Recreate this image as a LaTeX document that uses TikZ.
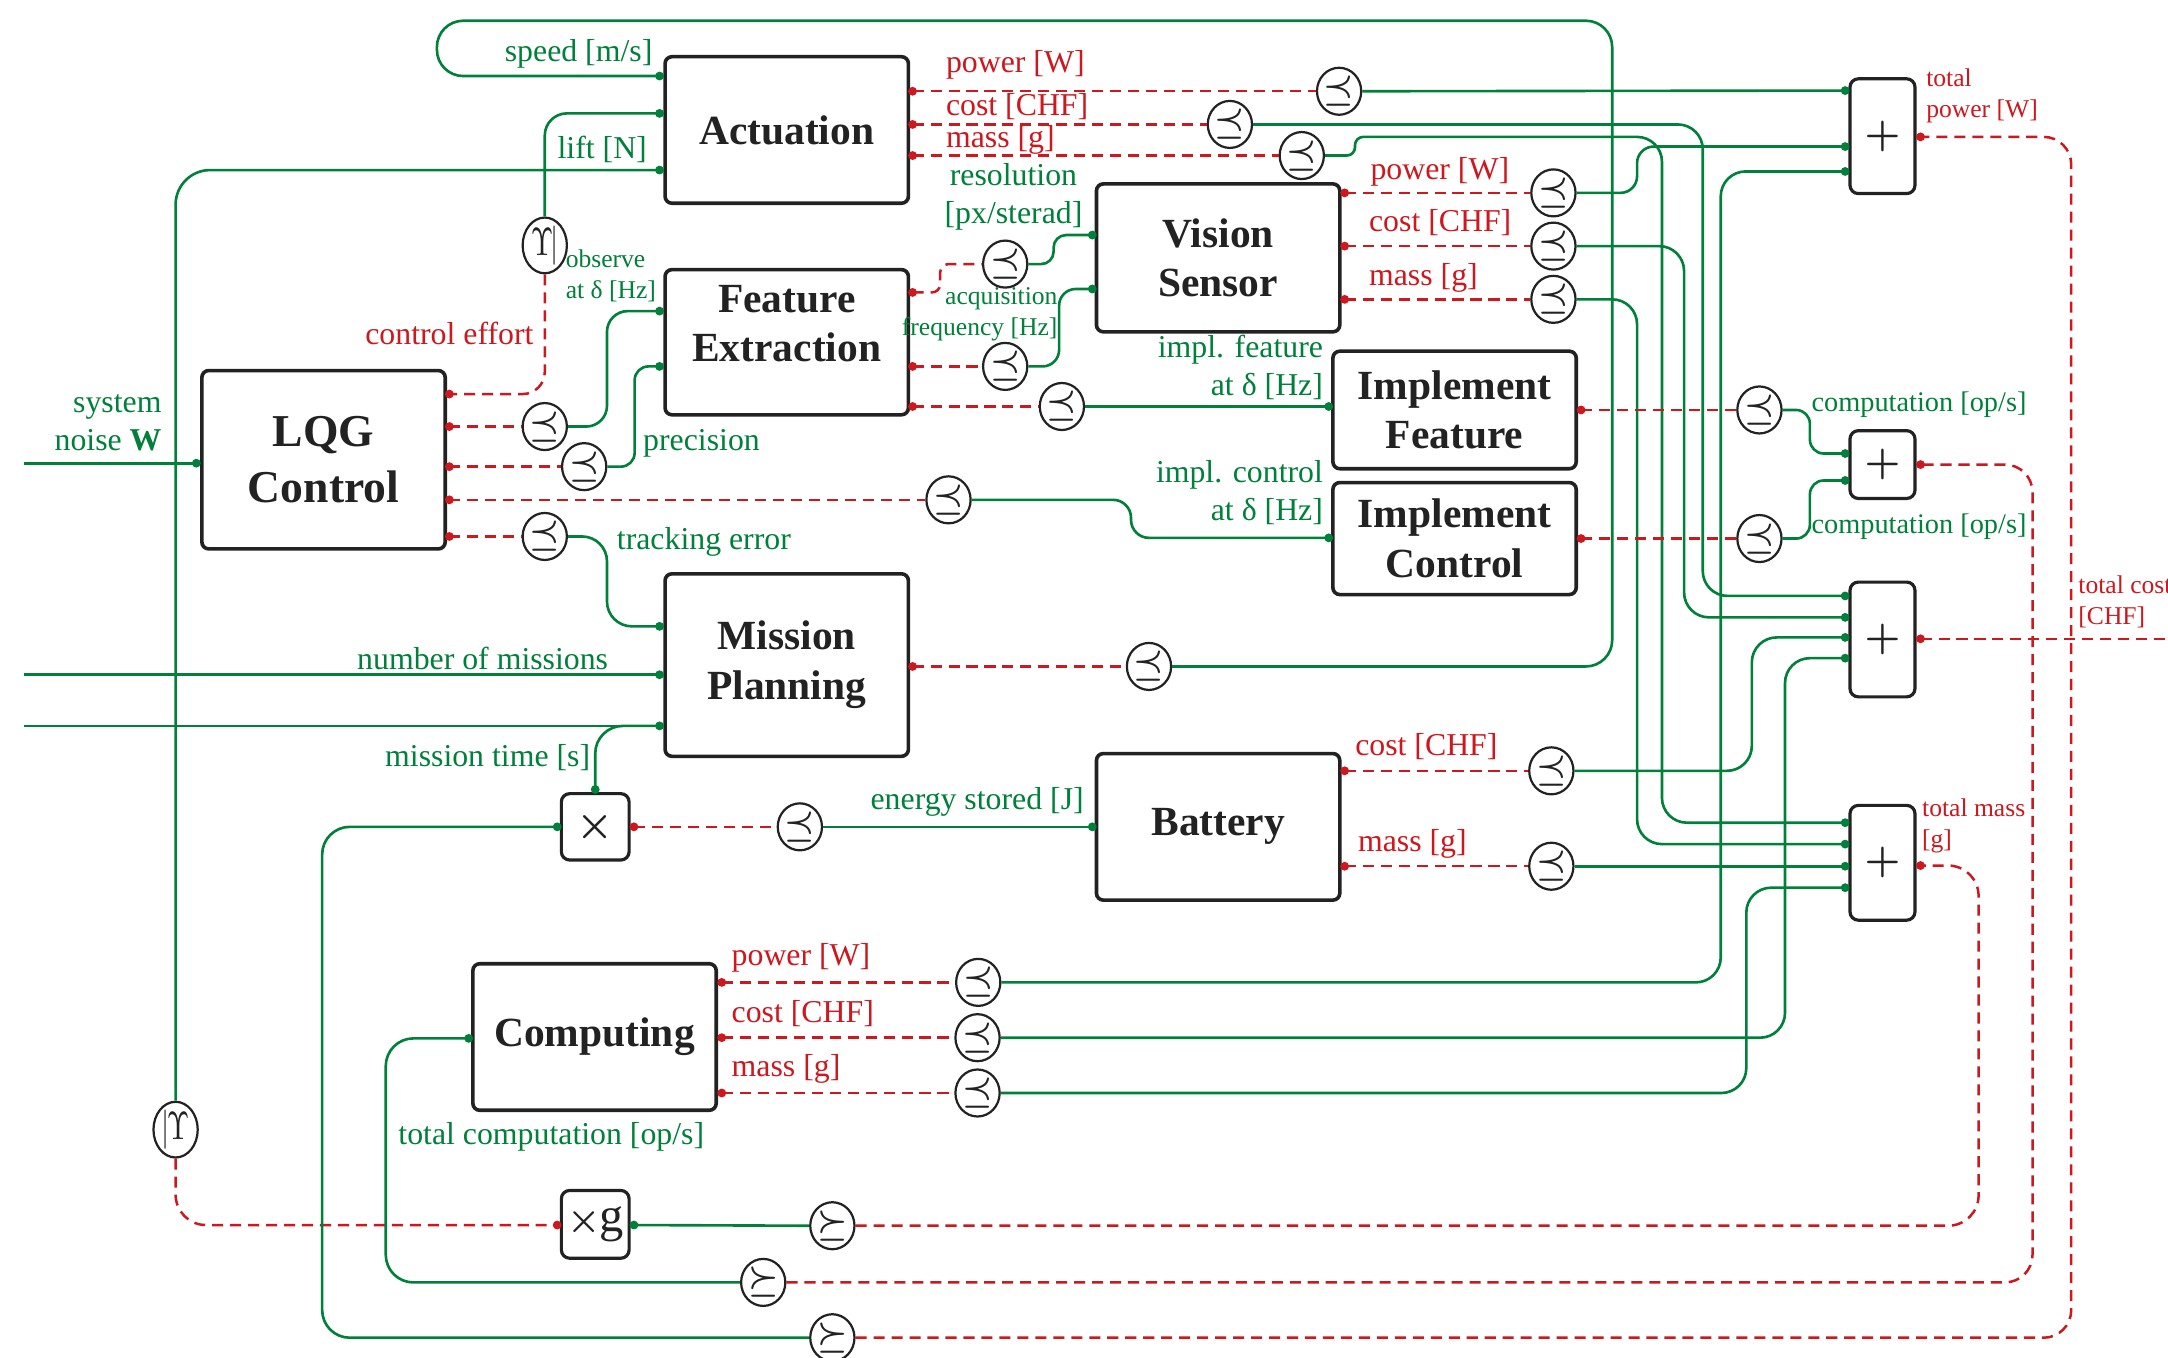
\documentclass[tikz,border=0pt]{standalone}
\usepackage{graphicx}
\usepackage{fontspec}
\setmainfont{Liberation Serif}
\usetikzlibrary{shapes.geometric}
\definecolor{fgreen}{RGB}{0,128,58}
\definecolor{rred}{RGB}{204,24,30}
\definecolor{boxc}{RGB}{34,34,34}
\newcommand\titlef{\fontsize{30}{36}\selectfont\bfseries}
\newcommand\lqgf{\fontsize{33}{40}\selectfont\bfseries}
\newcommand\labf{\fontsize{23}{27.5}\selectfont}
\newcommand\midf{\fontsize{20.5}{24}\selectfont}
\newcommand\smf{\fontsize{18.5}{22.5}\selectfont}
\newcommand\prq{\scalebox{2.45}{\normalsize\boldmath$\preceq$}}
\newcommand\scq{\scalebox{2.45}{\normalsize\boldmath$\succeq$}}
\newcommand\upsr{\scalebox{2.1}[2.85]{\normalsize$\Upsilon\kern-1pt|$}}
\newcommand\upsl{\scalebox{2.1}[2.85]{\normalsize$|\kern-1pt\Upsilon$}}
\newcommand\plussym{\scalebox{2.9}{\normalsize\boldmath$+$}}
\newcommand\timessym{\scalebox{3}{\normalsize\boldmath$\times$}}
\newcommand\timesg{\scalebox{2.7}{\normalsize\boldmath$\times$}\kern-1pt\scalebox{3.5}{\normalsize g}}
\tikzset{
  blk/.style={draw=boxc, line width=2.6pt, rounded corners=5pt, minimum width=176pt, inner sep=0pt, align=center, font=\titlef, text=boxc, fill=white},
  ttl/.style={font=\titlef, align=center, text=boxc, inner sep=0pt},
  opb/.style={draw=boxc, line width=2.3pt, rounded corners=6pt, inner sep=0pt, text=boxc, fill=white},
  cmp/.style={draw=boxc, line width=1.6pt, ellipse, minimum width=32pt, minimum height=34pt, inner sep=0pt, fill=white, text=boxc},
  fun/.style={draw=fgreen, line width=1.9pt},
  res/.style={draw=rred, line width=1.8pt, dash pattern=on 8pt off 5pt},
  glab/.style={text=fgreen, font=\labf, inner sep=0pt},
  rlab/.style={text=rred, font=\labf, inner sep=0pt},
  gmid/.style={text=fgreen, font=\midf, inner sep=0pt},
  gsml/.style={text=fgreen, font=\smf, inner sep=0pt},
  rsml/.style={text=rred, font=\smf, inner sep=0pt},
}
\begin{document}
\begin{tikzpicture}[x=1pt,y=-1pt]
\useasboundingbox (0,0) rectangle (1568,982);
\fill[white] (0,0) rectangle (1568,982);

% ---------- blocks ----------
\node[blk, minimum height=106pt] (act) at (569,94) {Actuation};
\node[blk, minimum height=105pt] (fe) at (569,247.5) {};
\node[ttl] (fe-t) at (569,234) {Feature\\Extraction};
\node[blk, minimum height=129pt, font=\lqgf] (lqg) at (234,332.5) {LQG\\Control};
\node[blk, minimum height=107pt] (vs) at (881,186.5) {Vision\\Sensor};
\node[blk, minimum height=85pt] (if) at (1052,296.5) {Implement\\Feature};
\node[blk, minimum height=81pt] (ic) at (1052,389.5) {Implement\\Control};
\node[blk, minimum height=132pt] (mp) at (569,481) {Mission\\Planning};
\node[blk, minimum height=106pt] (bat) at (881,598) {Battery};
\node[blk, minimum height=106pt] (comp) at (430,750) {Computing};
\node[opb, minimum width=49pt, minimum height=48pt] (xb) at (430.5,598) {\timessym};
\node[opb, minimum width=49pt, minimum height=49pt] (xg) at (430.5,885.5) {\timesg};
\node[opb, minimum width=47pt, minimum height=83pt] (pp) at (1361.5,98.5) {\plussym};
\node[opb, minimum width=47pt, minimum height=49pt] (pc) at (1361.5,336) {\plussym};
\node[opb, minimum width=47pt, minimum height=83pt] (pk) at (1361.5,462.5) {\plussym};
\node[opb, minimum width=47pt, minimum height=83pt] (pm) at (1361.5,624) {\plussym};

% ---------- ports ----------
\coordinate (act-i1) at (477,55);
\coordinate (act-i2) at (477,82);
\coordinate (act-i3) at (477,123);
\coordinate (act-o1) at (660,66);
\coordinate (act-o2) at (660,90);
\coordinate (act-o3) at (660,112.5);
\coordinate (fe-i1) at (477,225);
\coordinate (fe-i2) at (477,265);
\coordinate (fe-o1) at (660,211.5);
\coordinate (fe-o2) at (660,265);
\coordinate (fe-o3) at (660,294);
\coordinate (lqg-i) at (142,335);
\coordinate (lqg-o1) at (325,285);
\coordinate (lqg-o2) at (325,308.5);
\coordinate (lqg-o3) at (325,337.5);
\coordinate (lqg-o4) at (325,361.5);
\coordinate (lqg-o5) at (325,388);
\coordinate (vs-i1) at (790,170);
\coordinate (vs-i2) at (790,209);
\coordinate (vs-o1) at (972.5,139.5);
\coordinate (vs-o2) at (972.5,178);
\coordinate (vs-o3) at (972.5,216.5);
\coordinate (if-i) at (961,294);
\coordinate (if-o) at (1143.5,296.5);
\coordinate (ic-i) at (961,389);
\coordinate (ic-o) at (1143.5,389.5);
\coordinate (mp-i1) at (477,453);
\coordinate (mp-i2) at (477,488);
\coordinate (mp-i3) at (477,525);
\coordinate (mp-o) at (660,482);
\coordinate (bat-i) at (790,598);
\coordinate (bat-o1) at (972.5,557.5);
\coordinate (bat-o2) at (972.5,626.5);
\coordinate (comp-i) at (339,751);
\coordinate (comp-o1) at (522,710.5);
\coordinate (comp-o2) at (522,750.5);
\coordinate (comp-o3) at (522,790.5);
\coordinate (xb-t) at (430.5,571);
\coordinate (xb-w) at (403,598);
\coordinate (xb-e) at (458.5,598);
\coordinate (xg-w) at (403,886);
\coordinate (xg-e) at (458.5,886);
\coordinate (pp-i1) at (1334.5,65.5);
\coordinate (pp-i2) at (1334.5,106);
\coordinate (pp-i3) at (1334.5,124);
\coordinate (pp-o) at (1389,99);
\coordinate (pc-i1) at (1334.5,328);
\coordinate (pc-i2) at (1334.5,347.5);
\coordinate (pc-o) at (1389,336);
\coordinate (pk-i1) at (1334.5,431);
\coordinate (pk-i2) at (1334.5,446.5);
\coordinate (pk-i3) at (1334.5,461);
\coordinate (pk-i4) at (1334.5,476);
\coordinate (pk-o) at (1389,462);
\coordinate (pm-i1) at (1334.5,595);
\coordinate (pm-i2) at (1334.5,610.5);
\coordinate (pm-i3) at (1334.5,626.5);
\coordinate (pm-i4) at (1334.5,642);
\coordinate (pm-o) at (1389,626);
\coordinate (in-noise) at (17,335);
\coordinate (in-nm) at (17,488);
\coordinate (in-mt) at (17,525);
\coordinate (out-cost) at (1570,462);

% ---------- comparison circles ----------
\node[cmp] (ups1) at (394,177.5) {\upsr};
\node[cmp] (ups2) at (127,817) {\upsl};
\node[cmp] (c-l2) at (394,308.5) {\prq};
\node[cmp] (c-l3) at (422.5,337.5) {\prq};
\node[cmp] (c-l4) at (686,361.5) {\prq};
\node[cmp] (c-l5) at (394,388) {\prq};
\node[cmp] (c-x) at (578.5,598) {\prq};
\node[cmp] (c-mp) at (831,482) {\prq};
\node[cmp] (c-a1) at (968.5,66) {\prq};
\node[cmp] (c-a2) at (889.5,90) {\prq};
\node[cmp] (c-a3) at (941.5,112.5) {\prq};
\node[cmp] (c-f1) at (727,191) {\prq};
\node[cmp] (c-f2) at (727,265) {\prq};
\node[cmp] (c-f3) at (768,294) {\prq};
\node[cmp] (c-v1) at (1123.5,139.5) {\prq};
\node[cmp] (c-v2) at (1123.5,178) {\prq};
\node[cmp] (c-v3) at (1123.5,216.5) {\prq};
\node[cmp] (c-if) at (1272.5,296.5) {\prq};
\node[cmp] (c-ic) at (1272.5,389.5) {\prq};
\node[cmp] (c-b1) at (1122,557.5) {\prq};
\node[cmp] (c-b2) at (1122,626.5) {\prq};
\node[cmp] (c-c1) at (707.5,710.5) {\prq};
\node[cmp] (c-c2) at (707,750.5) {\prq};
\node[cmp] (c-c3) at (707,790.5) {\prq};
\node[cmp] (c-xg) at (602,886.5) {\scq};
\node[cmp] (c-tc) at (552,927.5) {\scq};
\node[cmp] (c-x2) at (602,967.5) {\scq};

% ---------- connectors ----------
% speed loop
\draw[fun, rounded corners=19pt] (c-mp.east) -- (1166,482) -- (1166,15) -- (316,15) -- (316,55) -- (act-i1);
\draw[res] (mp-o) -- (c-mp.west);
% lift
\draw[fun, rounded corners=16pt] (act-i2) -- (394,82) -- (ups1.north);
\draw[res, rounded corners=16pt] (ups1.south) -- (394,285) -- (lqg-o1);
\draw[fun, rounded corners=25pt] (act-i3) -- (127,123) -- (ups2.north);
\draw[res, rounded corners=22pt] (ups2.south) -- (127,886) -- (xg-w);
% LQG outputs
\draw[res] (lqg-o2) -- (c-l2.west);
\draw[fun, rounded corners=15pt] (c-l2.east) -- (439,308.5) -- (439,225) -- (fe-i1);
\draw[res] (lqg-o3) -- (c-l3.west);
\draw[fun, rounded corners=10pt] (c-l3.east) -- (459,337.5) -- (459,265) -- (fe-i2);
\draw[res] (lqg-o4) -- (c-l4.west);
\draw[fun, rounded corners=13pt] (c-l4.east) -- (818,361.5) -- (818,389) -- (ic-i);
\draw[res] (lqg-o5) -- (c-l5.west);
\draw[fun, rounded corners=18pt] (c-l5.east) -- (439,388) -- (439,453) -- (mp-i1);
% external inputs
\draw[fun] (in-noise) -- (lqg-i);
\draw[fun] (in-nm) -- (mp-i2);
\draw[fun] (in-mt) -- (mp-i3);
\draw[fun, rounded corners=20pt] (mp-i3) -- (430.5,525) -- (xb-t);
% multiply / energy
\draw[res] (xb-e) -- (c-x.west);
\draw[fun] (c-x.east) -- (bat-i);
\draw[fun, rounded corners=20pt] (xb-w) -- (233,598) -- (233,967.5) -- (c-x2.west);
\draw[res, rounded corners=20pt] (c-x2.east) -- (1498,967.5) -- (1498,99) -- (pp-o);
% total computation
\draw[fun, rounded corners=20pt] (comp-i) -- (279,751) -- (279,927.5) -- (c-tc.west);
\draw[res, rounded corners=20pt] (c-tc.east) -- (1470,927.5) -- (1470,336) -- (pc-o);
% xg
\draw[fun] (xg-e) -- (c-xg.west);
\draw[res, rounded corners=22pt] (c-xg.east) -- (1431,886.5) -- (1431,626) -- (pm-o);
\draw[res] (pk-o) -- (out-cost);
% actuation outputs
\draw[res] (act-o1) -- (c-a1.west);
\draw[fun] (c-a1.east) -- (pp-i1);
\draw[res] (act-o2) -- (c-a2.west);
\draw[fun, rounded corners=18pt] (c-a2.east) -- (1231.5,90) -- (1231.5,431) -- (pk-i1);
\draw[res] (act-o3) -- (c-a3.west);
\draw[fun] (c-a3.east) [rounded corners=6pt] -- (980,112.5) -- (980,99) [rounded corners=18pt] -- (1202,99) -- (1202,595) -- (pm-i1);
% feature extraction outputs
\draw[res, rounded corners=6pt] (fe-o1) -- (680,211.5) -- (680,191) -- (c-f1.west);
\draw[fun, rounded corners=9pt] (c-f1.east) -- (762,191) -- (762,170) -- (vs-i1);
\draw[res] (fe-o2) -- (c-f2.west);
\draw[fun, rounded corners=12pt] (c-f2.east) -- (766,265) -- (766,209) -- (vs-i2);
\draw[res] (fe-o3) -- (c-f3.west);
\draw[fun] (c-f3.east) -- (if-i);
% vision outputs
\draw[res] (vs-o1) -- (c-v1.west);
\draw[fun, rounded corners=12pt] (c-v1.east) -- (1184,139.5) -- (1184,106) -- (pp-i2);
\draw[res] (vs-o2) -- (c-v2.west);
\draw[fun, rounded corners=18pt] (c-v2.east) -- (1218,178) -- (1218,446.5) -- (pk-i2);
\draw[res] (vs-o3) -- (c-v3.west);
\draw[fun, rounded corners=18pt] (c-v3.east) -- (1184,216.5) -- (1184,610.5) -- (pm-i2);
% implement outputs
\draw[res] (if-o) -- (c-if.west);
\draw[fun, rounded corners=10pt] (c-if.east) -- (1309,296.5) -- (1309,328) -- (pc-i1);
\draw[res] (ic-o) -- (c-ic.west);
\draw[fun, rounded corners=10pt] (c-ic.east) -- (1309,389.5) -- (1309,347.5) -- (pc-i2);
% battery outputs
\draw[res] (bat-o1) -- (c-b1.west);
\draw[fun, rounded corners=18pt] (c-b1.east) -- (1267,557.5) -- (1267,461) -- (pk-i3);
\draw[res] (bat-o2) -- (c-b2.west);
\draw[fun] (c-b2.east) -- (pm-i3);
% computing outputs
\draw[res] (comp-o1) -- (c-c1.west);
\draw[fun, rounded corners=18pt] (c-c1.east) -- (1244.5,710.5) -- (1244.5,124) -- (pp-i3);
\draw[res] (comp-o2) -- (c-c2.west);
\draw[fun, rounded corners=18pt] (c-c2.east) -- (1291,750.5) -- (1291,476) -- (pk-i4);
\draw[res] (comp-o3) -- (c-c3.west);
\draw[fun, rounded corners=18pt] (c-c3.east) -- (1263,790.5) -- (1263,642) -- (pm-i4);

% ---------- dots ----------
\foreach \p in {act-i1,act-i2,act-i3,fe-i1,fe-i2,lqg-i,vs-i1,vs-i2,if-i,ic-i,mp-i1,mp-i2,mp-i3,bat-i,comp-i,xb-t,xb-w,xg-e,pp-i1,pp-i2,pp-i3,pc-i1,pc-i2,pk-i1,pk-i2,pk-i3,pk-i4,pm-i1,pm-i2,pm-i3,pm-i4}
  \fill[fgreen] (\p) circle (3.2pt);
\foreach \p in {act-o1,act-o2,act-o3,fe-o1,fe-o2,fe-o3,lqg-o1,lqg-o2,lqg-o3,lqg-o4,lqg-o5,vs-o1,vs-o2,vs-o3,if-o,ic-o,mp-o,bat-o1,bat-o2,comp-o1,comp-o2,comp-o3,xb-e,xg-w,pp-o,pc-o,pk-o,pm-o}
  \fill[rred] (\p) circle (3.2pt);

% ---------- labels ----------
\node[glab, anchor=east] (l-speed) at (472,39) {speed [m/s]};
\node[glab, anchor=east] (l-lift) at (468,108) {lift [N]};
\node[gsml, anchor=west, align=left] (l-obs) at (409,199.5) {observe\\at δ [Hz]};
\node[rlab, anchor=east] (l-ce) at (386,241) {control effort};
\node[glab, anchor=east, align=right] (l-noise) at (117,305.5) {system\\noise \textbf{W}};
\node[glab, anchor=west] (l-prec) at (465,321) {precision};
\node[glab, anchor=west] (l-track) at (446,392) {tracking error};
\node[glab, anchor=east] (l-nm) at (440,476) {number of missions};
\node[glab, anchor=east] (l-mt) at (427,548) {mission time [s]};
\node[glab, anchor=east] (l-es) at (784,580) {energy stored [J]};
\node[glab, anchor=west] (l-tc) at (288,822) {total computation [op/s]};
\node[rlab, anchor=west] (l-ap) at (684,47) {power [W]};
\node[rlab, anchor=west] (l-ac) at (684,77) {cost [CHF]};
\node[rlab, anchor=west] (l-am) at (684,101) {mass [g]};
\node[glab, align=center] (l-res) at (733,142.5) {resolution\\{}[px/sterad]};
\node[gsml, anchor=east, align=right] (l-acq) at (765,227.5) {acquisition\\frequency [Hz]};
\node[glab, anchor=east, align=right] (l-if) at (957,265.5) {impl. feature\\at δ [Hz]};
\node[glab, anchor=east, align=right] (l-ic) at (957,356.5) {impl. control\\at δ [Hz]};
\node[rlab, anchor=west] (l-vp) at (991,124) {power [W]};
\node[rlab, anchor=west] (l-vc) at (990,161) {cost [CHF]};
\node[rlab, anchor=west] (l-vm) at (990,201) {mass [g]};
\node[rlab, anchor=west] (l-bc) at (980,540) {cost [CHF]};
\node[rlab, anchor=west] (l-bm) at (982,610) {mass [g]};
\node[rlab, anchor=west] (l-cp) at (529,693) {power [W]};
\node[rlab, anchor=west] (l-cc) at (529,733) {cost [CHF]};
\node[rlab, anchor=west] (l-cm) at (529,773) {mass [g]};
\node[gmid, anchor=west] (l-comp1) at (1310,293) {computation [op/s]};
\node[gmid, anchor=west] (l-comp2) at (1310,381) {computation [op/s]};
\node[rsml, anchor=west, align=left] (l-tp) at (1393,69.5) {total\\power [W]};
\node[rsml, anchor=west, align=left] (l-tcost) at (1503,435.5) {total cost\\{}[CHF]};
\node[rsml, anchor=west, align=left] (l-tm) at (1390,597.5) {total mass\\{}[g]};
\end{tikzpicture}
\end{document}
